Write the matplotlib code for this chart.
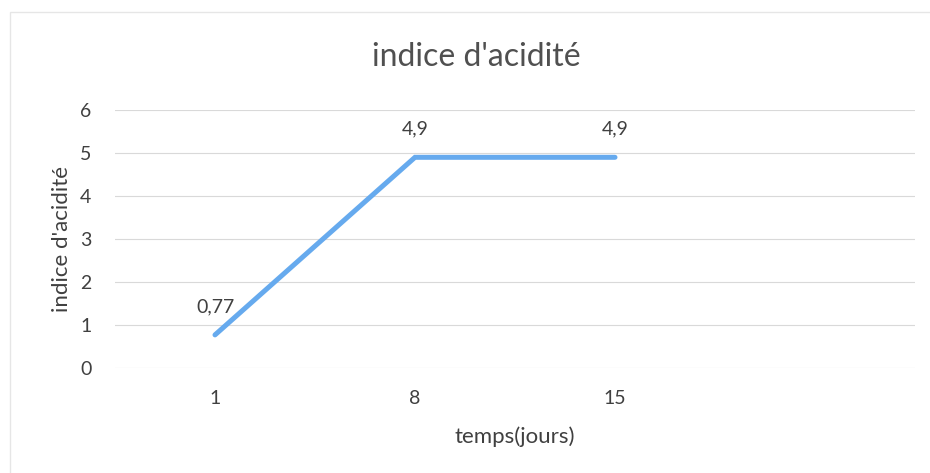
import matplotlib.pyplot as plt
from matplotlib.patches import Rectangle

plt.rcParams['font.family'] = ['Lato', 'DejaVu Sans']

days = ["1", "8", "15", ""]
acid_index = [0.77, 4.9, 4.9]
point_labels = ["0,77", "4,9", "4,9"]

fig = plt.figure(figsize=(9.3, 4.73), dpi=100)
ax = fig.add_axes([115 / 930, 105 / 473, 800 / 930, 258 / 473])

pos = list(range(len(acid_index)))
ax.plot(pos, acid_index, color="#66aaee", lw=3.6, solid_capstyle="round",
        solid_joinstyle="miter")
for x, y, lab in zip(pos, acid_index, point_labels):
    ax.annotate(lab, (x, y), xytext=(0, 14), textcoords="offset points",
                ha="center", va="bottom", fontsize=14, color="#404040")

ax.set_xlim(-0.5, len(days) - 0.5)
ax.set_ylim(0, 6)
ax.set_xticks(range(len(days)))
ax.set_xticklabels(days)
ax.set_yticks(range(0, 7))
ax.tick_params(length=0, labelsize=14, labelcolor="#404040")
ax.tick_params(axis="x", pad=16)
ax.tick_params(axis="y", pad=17)
ax.grid(axis="y", color="#d9d9d9", lw=0.8)
ax.set_axisbelow(True)
for s in ax.spines.values():
    s.set_visible(False)

ax.set_xlabel("temps(jours)", fontsize=16, color="#404040", labelpad=14)
ax.set_ylabel("indice d'acidité", fontsize=16, color="#404040", labelpad=6)
fig.text(476 / 930, 1 - 57 / 473, "indice d'acidité", ha="center", va="center",
         fontsize=23, color="#505050")

fig.patches.append(Rectangle((10 / 930, -0.05), 1.1, 1 - 12 / 473 + 0.05,
                             transform=fig.transFigure, fill=False,
                             ec="#e6e6e6", lw=1))

fig.savefig("out.png", dpi=100)
